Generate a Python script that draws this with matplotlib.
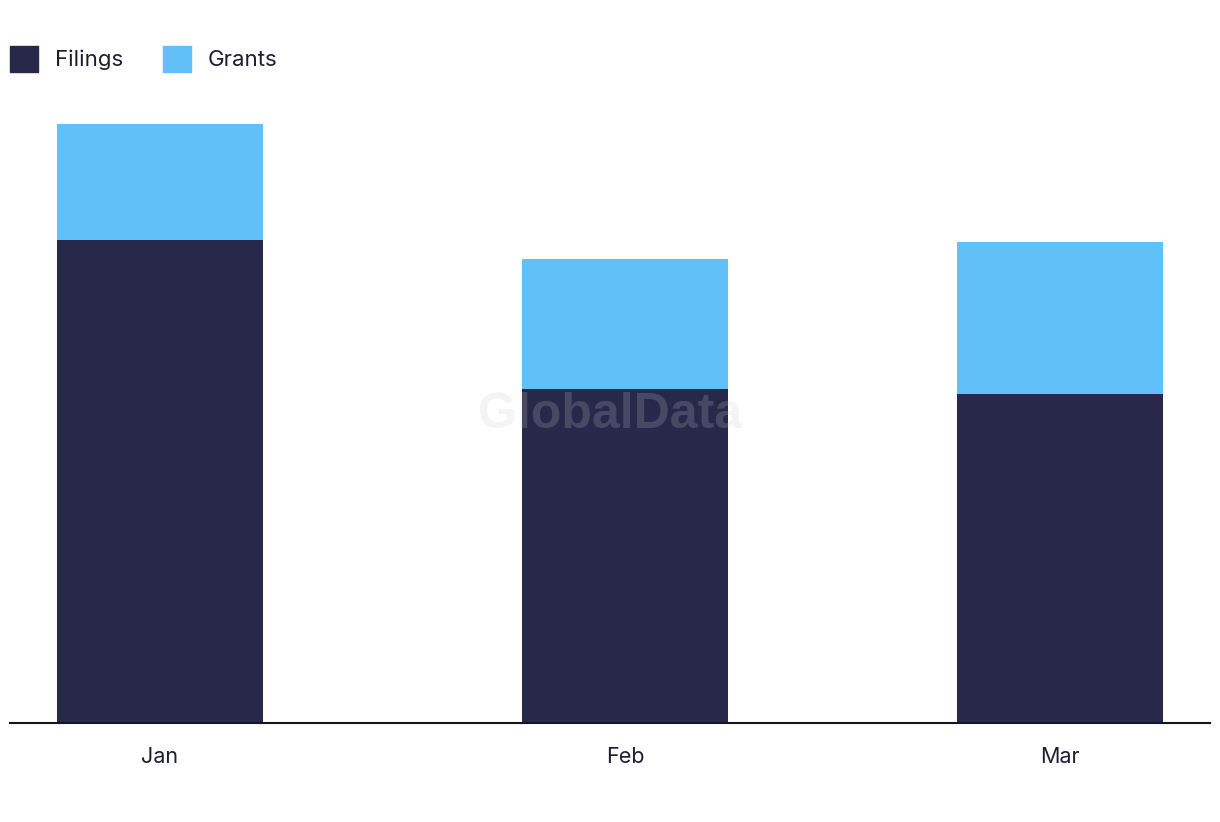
import pandas as pd
import matplotlib
matplotlib.use("Agg")
import matplotlib.pyplot as plt
from matplotlib.patches import Patch

# data (pixel-height units, no y axis shown)
months = ["Jan", "Feb", "Mar"]
month_starts = ["2024-01-01", "2024-02-01", "2024-03-01"]
filings = [483, 334, 329]
grants = [116, 130, 152]

navy = "#28284b"
sky = "#62c0f8"

plt.rcParams["font.family"] = ["Inter", "DejaVu Sans"]

dates = pd.to_datetime(month_starts)
x = (dates - dates[0]).days.to_numpy()

fig = plt.figure(figsize=(12.2, 8.22), dpi=100)
ax = fig.add_axes([10 / 1220, 99 / 822, 1200 / 1220, 623 / 822])

ax.bar(x, filings, width=13.7, color=navy, label="Filings", zorder=2)
ax.bar(x, grants, width=13.7, bottom=filings, color=sky, label="Grants", zorder=2)

ax.set_xlim(x[0] - 10, x[-1] + 10)
ax.set_ylim(0, 623)
ax.set_xticks(x, months)
ax.tick_params(axis="x", length=0, pad=17, labelsize=15.5, labelcolor="#1e1e30")
ax.set_yticks([])
for s in ["top", "right", "left"]:
    ax.spines[s].set_visible(False)
ax.spines["bottom"].set_color("#15151f")
ax.spines["bottom"].set_linewidth(1.5)
ax.spines["bottom"].set_zorder(3)

# watermark
fig.text(610 / 1220, 1 - 415 / 822, "GlobalData", fontsize=36, fontweight="bold",
         family="Liberation Sans", color="#cccccc", alpha=0.2,
         ha="center", va="center", zorder=10)

handles = [Patch(color=navy, label="Filings"), Patch(color=sky, label="Grants")]
fig.legend(handles=handles, loc="upper left", bbox_to_anchor=(1 / 1220, 1 - 37 / 822),
           ncol=2, frameon=False, fontsize=16, handlelength=1.26, handleheight=1.4,
           handletextpad=0.75, columnspacing=1.8, borderaxespad=0, labelcolor="#1e1e30")

fig.savefig("out.png", dpi=100)
